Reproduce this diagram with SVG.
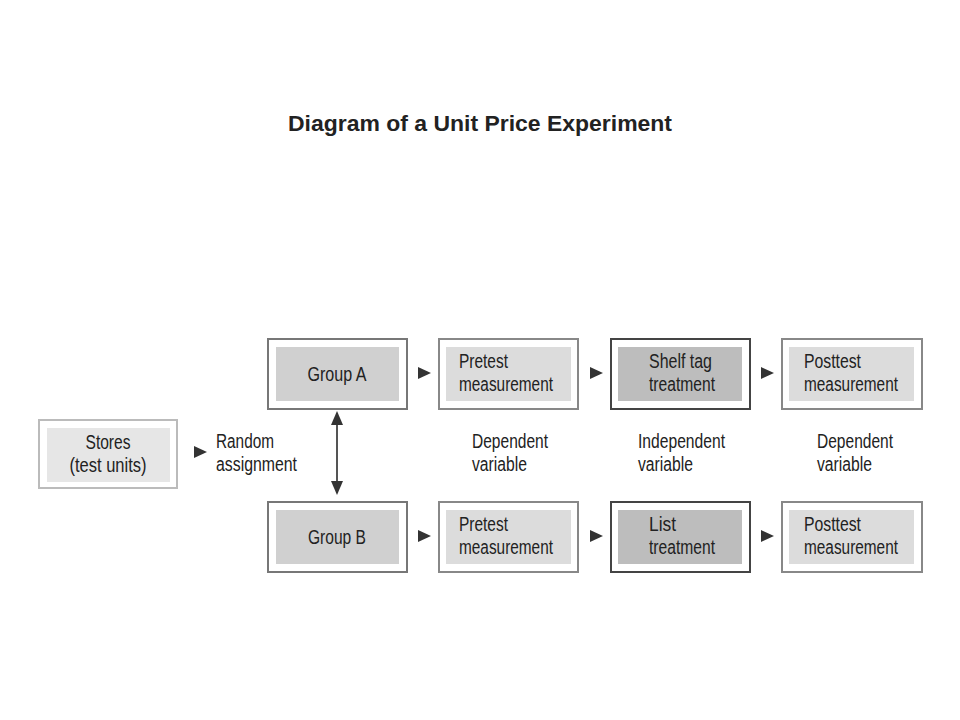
<svg xmlns="http://www.w3.org/2000/svg" width="960" height="720" viewBox="0 0 960 720">
<style>
.t{font-family:"Liberation Sans",Arial,sans-serif;font-size:20px;fill:#222;}
.ttl{font-family:"Liberation Sans",Arial,sans-serif;font-size:22.5px;font-weight:bold;fill:#222;}
.o{fill:#fff;stroke-width:2;}
.mid{text-anchor:middle;}
</style>
<rect width="960" height="720" fill="#fff"/>
<text class="ttl mid" x="480" y="131" textLength="384" lengthAdjust="spacingAndGlyphs">Diagram of a Unit Price Experiment</text>

<g id="stores"><rect class="o" x="39" y="420" width="138" height="68" stroke="#bbb"/><rect x="47" y="428" width="123" height="54" fill="#e6e6e6"/>
<text class="t mid" x="108" y="449" textLength="45" lengthAdjust="spacingAndGlyphs">Stores</text><text class="t mid" x="108" y="472" textLength="77" lengthAdjust="spacingAndGlyphs">(test units)</text></g>

<g id="groupA"><rect class="o" x="268" y="339" width="139" height="70" stroke="#777"/><rect x="276" y="347" width="123" height="54" fill="#d0d0d0"/>
<text class="t mid" x="337" y="381" textLength="59" lengthAdjust="spacingAndGlyphs">Group A</text></g>
<g id="pretestA"><rect class="o" x="439" y="339" width="139" height="70" stroke="#888"/><rect x="446" y="347" width="125" height="54" fill="#dcdcdc"/>
<text class="t" x="459" y="368" textLength="49" lengthAdjust="spacingAndGlyphs">Pretest</text><text class="t" x="459" y="391" textLength="94" lengthAdjust="spacingAndGlyphs">measurement</text></g>
<g id="shelf"><rect class="o" x="611" y="339" width="139" height="70" stroke="#444"/><rect x="618" y="347" width="124" height="54" fill="#bdbdbd"/>
<text class="t" x="649" y="368" textLength="63" lengthAdjust="spacingAndGlyphs">Shelf tag</text><text class="t" x="649" y="391" textLength="66" lengthAdjust="spacingAndGlyphs">treatment</text></g>
<g id="posttestA"><rect class="o" x="782" y="339" width="140" height="70" stroke="#888"/><rect x="789" y="347" width="125" height="54" fill="#dcdcdc"/>
<text class="t" x="804" y="368" textLength="57" lengthAdjust="spacingAndGlyphs">Posttest</text><text class="t" x="804" y="391" textLength="94" lengthAdjust="spacingAndGlyphs">measurement</text></g>

<g id="groupB"><rect class="o" x="268" y="502" width="139" height="70" stroke="#777"/><rect x="276" y="510" width="123" height="54" fill="#d0d0d0"/>
<text class="t mid" x="337" y="544" textLength="58" lengthAdjust="spacingAndGlyphs">Group B</text></g>
<g id="pretestB"><rect class="o" x="439" y="502" width="139" height="70" stroke="#888"/><rect x="446" y="510" width="125" height="54" fill="#dcdcdc"/>
<text class="t" x="459" y="531" textLength="49" lengthAdjust="spacingAndGlyphs">Pretest</text><text class="t" x="459" y="554" textLength="94" lengthAdjust="spacingAndGlyphs">measurement</text></g>
<g id="list"><rect class="o" x="611" y="502" width="139" height="70" stroke="#444"/><rect x="618" y="510" width="124" height="54" fill="#bdbdbd"/>
<text class="t" x="649" y="531" textLength="27" lengthAdjust="spacingAndGlyphs">List</text><text class="t" x="649" y="554" textLength="66" lengthAdjust="spacingAndGlyphs">treatment</text></g>
<g id="posttestB"><rect class="o" x="782" y="502" width="140" height="70" stroke="#888"/><rect x="789" y="510" width="125" height="54" fill="#dcdcdc"/>
<text class="t" x="804" y="531" textLength="57" lengthAdjust="spacingAndGlyphs">Posttest</text><text class="t" x="804" y="554" textLength="94" lengthAdjust="spacingAndGlyphs">measurement</text></g>

<g id="labels">
<text class="t" x="216" y="448" textLength="58" lengthAdjust="spacingAndGlyphs">Random</text><text class="t" x="216" y="471" textLength="81" lengthAdjust="spacingAndGlyphs">assignment</text>
<text class="t" x="472" y="448" textLength="76" lengthAdjust="spacingAndGlyphs">Dependent</text><text class="t" x="472" y="471" textLength="55" lengthAdjust="spacingAndGlyphs">variable</text>
<text class="t" x="638" y="448" textLength="87" lengthAdjust="spacingAndGlyphs">Independent</text><text class="t" x="638" y="471" textLength="55" lengthAdjust="spacingAndGlyphs">variable</text>
<text class="t" x="817" y="448" textLength="76" lengthAdjust="spacingAndGlyphs">Dependent</text><text class="t" x="817" y="471" textLength="55" lengthAdjust="spacingAndGlyphs">variable</text>
</g>

<g id="connectors" fill="#333">
<path d="M194,446 L207,452 L194,458 Z"/>
<path d="M418,367 L431,373 L418,379 Z"/>
<path d="M590,367 L603,373 L590,379 Z"/>
<path d="M761,367 L774,373 L761,379 Z"/>
<path d="M418,530 L431,536 L418,542 Z"/>
<path d="M590,530 L603,536 L590,542 Z"/>
<path d="M761,530 L774,536 L761,542 Z"/>
<line x1="337" y1="420" x2="337" y2="485" stroke="#555" stroke-width="2"/>
<path d="M331,425 L337,411 L343,425 Z"/>
<path d="M331,481 L337,495 L343,481 Z"/>
</g>
</svg>
